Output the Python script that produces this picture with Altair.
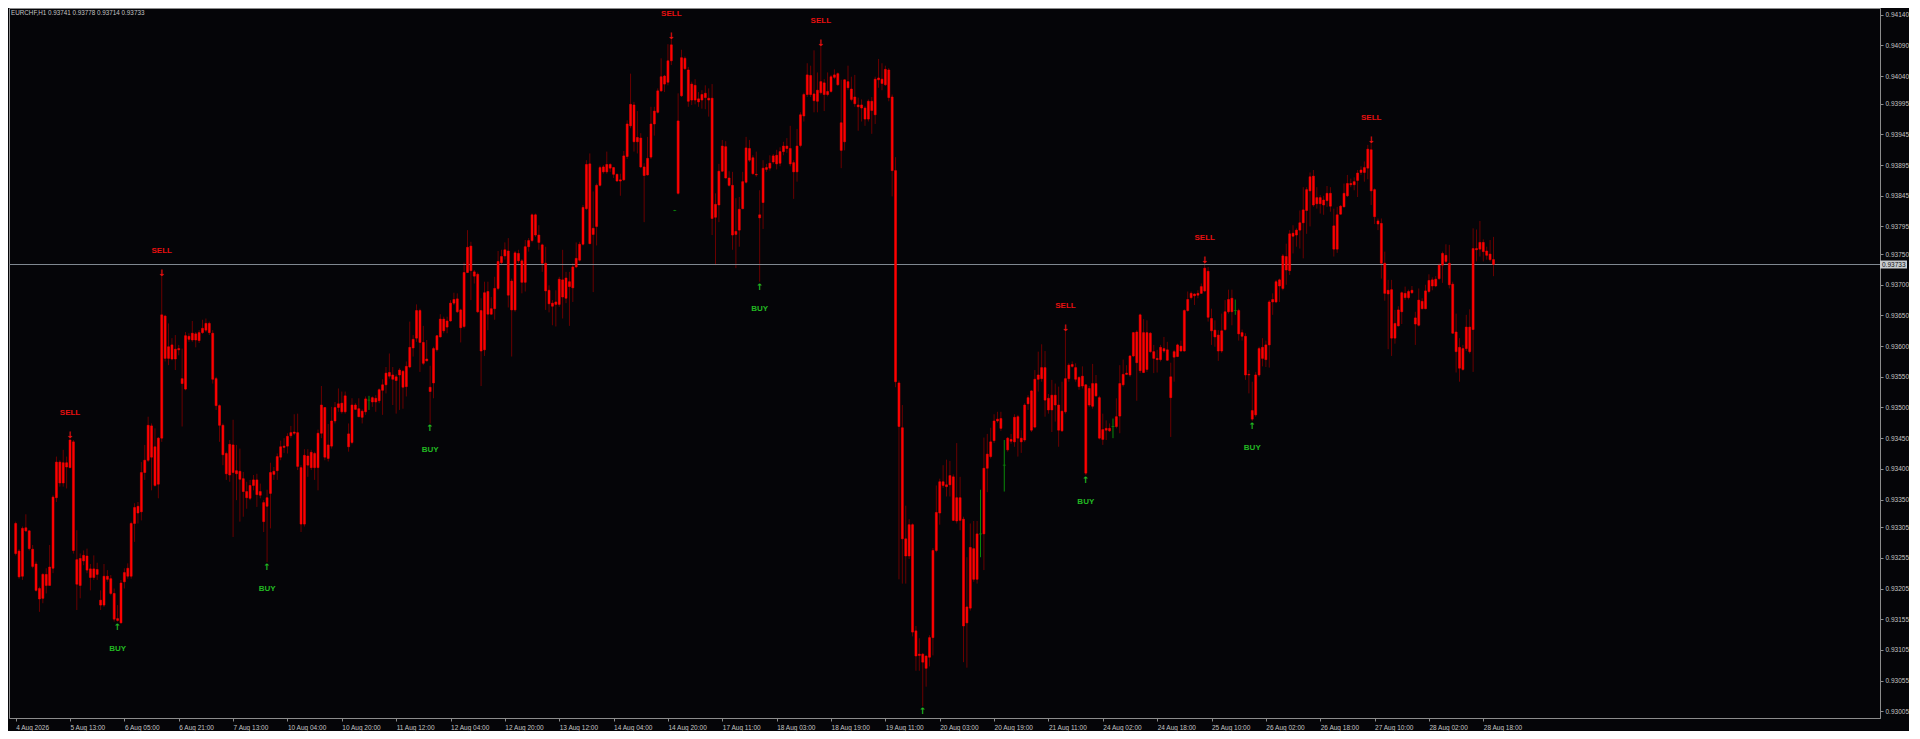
import altair as alt
import pandas as pd

# ---------------- data (prices in points above 0.93000, i.e. 1 = 0.00001) -------------
high = [
314,269,306,326,300,276,249,208,230,238, 276,357,420,414,431,420,452,447,300,262,
267,270,245,259,247,202,245,235,227,205, 178,219,238,246,314,344,346,411,439,485,
474,466,452,716,651,637,613,618,602,596, 623,621,641,623,626,643,645,640,626,550,
505,474,428,447,480,439,433,395,379,382, 390,392,376,349,366,410,403,425,446,450,
458,470,489,490,406,432,432,431,428,464, 535,501,473,501,509,531,526,526,474,515,
507,515,497,518,519,518,520,531,546,566, 588,566,554,564,561,575,640,618,668,661,
633,610,568,599,618,652,648,648,675,687, 686,661,736,789,770,724,720,678,705,705,
680,713,755,757,769,776,710,755,757,742, 773,776,816,816,797,767,762,699,675,691,
713,757,721,721,735,769,770,830,903,914, 852,865,894,895,917,898,892,881,881,918,
968,1044,998,983,947,898,941,990,990,1020, 1069,1042,1092,1102,822,1012,1083,1072,1055,1031,
1035,1014,1017,1025,1020,1027,849,897,936,934, 885,884,841,843,884,941,936,911,917,854,
903,897,911,913,920,924,933,939,959,903, 954,981,1013,1061,1057,1082,1046,1090,1035,1046,
1042,1051,1046,1034,1035,1057,1039,1042,1005,1002, 991,1002,1006,1039,1068,1061,1057,1053,1010,908,
544,504,340,318,311,144,124,100,96,129, 271,373,384,406,415,413,391,442,387,322,
256,311,315,315,366,451,457,467,489,493, 493,447,452,457,489,488,463,507,520,528,
561,591,603,592,522,545,539,534,542,626, 572,575,572,551,567,538,535,571,553,519,
490,479,474,482,515,569,578,569,585,623, 626,653,644,642,623,602,594,602,615,607,
573,594,604,609,660,689,689,686,691,702, 737,729,661,642,626,653,675,692,692,676,
661,627,621,561,542,558,599,613,609,675, 686,708,710,750,767,789,797,792,821,859,
859,883,887,859,846,845,861,859,824,827, 830,865,879,873,875,887,893,901,928,932,
857,808,808,754,708,708,659,665,689,697, 692,698,656,694,678,700,717,712,714,735,
754,766,765,705,653,613,602,651,660,792, 790,804,774,762,773,778,
]
low = [
259,221,219,297,267,238,200,167,181,197, 210,230,346,371,371,368,401,262,170,189,
243,230,202,219,219,170,175,216,194,151, 151,148,205,221,221,281,311,316,382,411,
365,371,352,444,575,569,577,561,585,469, 528,607,607,598,605,620,623,618,539,496,
444,406,382,379,289,349,314,322,335,349, 365,338,352,297,248,303,382,382,414,426,
425,450,455,398,297,306,387,398,382,365, 450,414,412,433,474,493,490,490,428,440,
496,484,474,488,496,501,493,507,488,523, 547,504,490,496,498,518,564,583,607,558,
569,575,474,515,591,614,621,621,640,667, 654,606,629,719,675,702,654,535,584,626,
651,643,691,732,741,663,583,656,735,686, 689,754,769,778,757,721,659,655,634,632,
664,645,670,633,672,727,738,764,822,766, 688,764,860,881,881,884,874,868,845,869,
905,955,917,914,890,802,878,905,943,979, 1014,1014,1025,1058,820,847,1006,1050,990,993,
994,990,987,986,974,781,732,802,884,873, 860,757,727,762,823,865,900,879,876,705,
791,884,886,897,888,893,911,915,893,840, 868,924,966,1006,1006,981,981,1010,983,1007,
1013,1035,1024,890,919,1017,999,990,951,966, 959,966,946,962,1021,1017,1024,999,844,533,
220,213,213,253,127,71,71,13,45,78, 96,264,309,369,355,355,315,311,300,85,
76,169,216,213,256,235,362,417,442,475, 462,363,428,441,436,420,426,444,496,460,
466,526,542,485,490,460,477,436,460,490, 542,565,542,529,531,390,501,498,517,448,
439,447,460,450,466,458,534,553,550,582, 511,556,556,558,589,556,557,575,589,576,
452,542,582,591,591,656,676,667,678,685, 688,640,602,599,576,589,625,653,634,651,
609,609,545,523,478,485,550,567,566,565, 651,670,672,691,700,716,751,762,759,743,
783,795,827,824,816,814,827,819,746,752, 814,826,843,859,854,843,879,868,872,830,
799,789,710,674,595,584,604,632,636,675, 676,685,602,632,660,660,686,691,696,708,
703,735,694,620,557,542,560,592,588,558, 738,746,738,741,738,714,
]
open_ = [
311,266,303,304,299,269,245,205,228,228, 240,354,411,411,410,410,447,444,252,254,
259,258,237,237,236,186,225,225,221,197, 156,214,231,238,311,337,339,394,414,471,
470,436,450,651,649,599,602,595,596,547, 617,616,621,620,622,629,637,637,621,547,
503,471,425,440,439,397,396,384,363,373, 382,382,363,345,353,394,396,420,436,437,
453,459,460,459,402,422,421,427,425,458, 504,500,439,478,500,506,507,519,457,504,
504,498,494,514,512,516,515,529,537,556, 557,553,550,561,559,567,598,611,658,658,
606,579,533,596,617,644,644,641,670,676, 677,659,720,761,763,721,717,658,687,689,
661,694,738,746,757,755,706,752,751,739, 762,772,814,814,781,765,735,691,670,672,
709,708,711,705,729,743,766,826,896,897, 792,862,891,892,896,896,891,880,871,910,
962,994,993,940,939,892,906,962,983,1016, 1039,1040,1065,1091,821,967,1070,1069,1050,1027,
1025,1003,1010,1012,1004,1004,831,885,926,925, 874,862,787,823,868,923,922,907,880,814,
890,891,898,910,911,917,926,926,922,899, 926,977,1010,1042,1041,1011,1017,1031,1029,1015,
1039,1042,1044,964,1034,1031,1019,1006,993,993, 988,999,999,1035,1037,1035,1051,1050,1006,886,
540,467,286,309,309,136,98,98,95,125, 267,329,379,379,374,389,387,353,353,318,
175,272,270,294,294,401,424,444,478,481, 482,406,450,448,484,485,450,504,516,527,
546,553,565,565,515,520,520,504,494,547, 569,570,565,549,551,537,531,539,539,516,
464,466,466,469,485,539,554,556,584,622, 623,651,622,622,621,591,580,598,596,594,
550,591,602,600,658,676,686,685,686,697, 727,722,645,626,618,625,656,676,678,658,
658,622,616,554,495,553,596,598,602,672, 676,705,708,747,746,783,784,789,801,822,
855,876,877,842,842,838,849,849,796,814, 828,849,865,865,868,882,887,891,921,920,
855,804,800,735,691,692,637,659,687,686, 689,691,646,675,673,690,707,708,709,732,
751,748,735,701,623,598,596,631,631,759, 759,769,769,755,750,741,
]
close_ = [
262,224,225,299,270,241,202,188,189,210, 210,238,353,377,377,403,402,267,212,210,
250,235,223,223,228,178,178,220,197,155, 153,149,216,225,225,311,328,330,394,414,
419,373,375,450,580,580,579,579,594,539, 530,611,610,610,609,622,626,622,546,503,
471,423,392,390,394,392,383,363,353,352, 373,358,357,314,339,360,391,397,419,435,
437,454,458,404,310,310,406,402,402,402, 458,419,417,437,478,500,493,493,436,443,
497,485,484,493,512,509,509,511,528,537, 551,546,544,553,533,534,566,597,613,606,
572,576,526,540,594,615,625,631,641,670, 656,630,632,720,723,714,656,592,594,652,
652,661,694,736,747,683,659,659,739,704, 704,762,772,781,769,735,690,669,665,668,
668,680,678,697,695,729,740,766,824,767, 782,795,862,884,884,890,880,869,869,871,
909,959,933,933,892,878,879,908,962,981, 1016,1027,1030,1065,821,849,1008,1052,999,1001,
1001,998,1001,1005,1001,808,810,830,885,874, 862,781,782,789,824,867,903,881,879,809,
834,888,890,900,897,898,917,922,897,884, 884,927,975,1010,1010,1000,999,1013,1010,1010,
1015,1038,1026,919,933,1021,1002,995,990,988, 970,970,984,977,1034,1028,1026,1005,886,542,
469,286,258,258,134,95,96,85,75,93, 125,267,328,373,371,374,316,315,316,144,
149,173,220,220,294,294,401,420,446,478, 466,406,431,445,444,450,444,447,506,463,
468,546,547,512,496,496,504,463,462,493, 547,567,546,534,535,393,504,502,519,450,
448,463,462,469,469,486,537,554,553,584, 573,560,557,562,591,580,578,578,592,577,
516,582,583,592,592,658,679,682,683,686, 690,647,625,615,592,592,627,656,656,658,
620,616,553,553,481,488,553,580,578,602, 672,672,698,694,724,723,779,781,789,801,
821,853,830,832,832,830,837,828,758,758, 815,827,845,863,863,870,883,883,890,853,
811,799,735,686,685,613,613,633,656,679, 679,687,636,634,661,661,689,698,698,710,
732,738,700,621,591,564,562,596,591,627, 757,758,754,748,741,733,
]
doji_idx = [104, 194, 284, 291, 323, 359]

sig_idx = [16, 30, 43, 74, 122, 193, 219, 237, 267, 309, 315, 350, 364, 399]
sig_kind = ["SELL", "BUY", "SELL", "BUY", "BUY", "SELL", "BUY", "SELL", "BUY",
            "SELL", "BUY", "SELL", "BUY", "SELL"]

xtick_idx = list(range(0, 433, 16))
xtick_lbl = ["4 Aug 2026", "5 Aug 13:00", "6 Aug 05:00", "6 Aug 21:00", "7 Aug 13:00",
             "10 Aug 04:00", "10 Aug 20:00", "11 Aug 12:00", "12 Aug 04:00", "12 Aug 20:00",
             "13 Aug 12:00", "14 Aug 04:00", "14 Aug 20:00", "17 Aug 11:00", "18 Aug 03:00",
             "18 Aug 19:00", "19 Aug 11:00", "20 Aug 03:00", "20 Aug 19:00", "21 Aug 11:00",
             "24 Aug 02:00", "24 Aug 18:00", "25 Aug 10:00", "26 Aug 02:00", "26 Aug 18:00",
             "27 Aug 10:00", "28 Aug 02:00", "28 Aug 18:00"]
ytick_pts = [1140, 1090, 1040, 995, 945, 895, 845, 795, 750, 700, 650, 600, 550, 500,
             450, 400, 350, 305, 255, 205, 155, 105, 55, 5]

SYMBOL = "EURCHF,H1"

# ---------------- build tables ----------------
BASE = 0.93


def P(v):
    return round(BASE + v / 1e5, 5)


n = len(high)
df = pd.DataFrame({
    "i": list(range(n)),
    "high": [P(v) for v in high],
    "low": [P(v) for v in low],
    "open": [P(v) for v in open_],
    "close": [P(v) for v in close_],
    "doji": [k in doji_idx for k in range(n)],
})

sig = pd.DataFrame({
    "i": sig_idx,
    "kind": sig_kind,
    "anchor": [P(high[k]) if s == "SELL" else P(low[k]) for k, s in zip(sig_idx, sig_kind)],
})

last = df.iloc[-1]
header = "%s  %.5f %.5f %.5f %.5f" % (SYMBOL, last["open"], last["high"], last["low"], last["close"])
price_df = pd.DataFrame({"p": [last["close"]], "t": ["%.5f" % last["close"]]})

# ---------------- styling ----------------
W, H = 1871, 710
BG = "#050508"
BODY = "#ff0000"
WICK = "#6a0000"
GREEN = "#0a8a0a"
AXIS_C = "#8c8c8c"
TXT = "#c4c4c4"
FONT = "Liberation Sans"
FS = 6.5

xs = alt.Scale(domain=[-0.49, 547.3], nice=False, zero=False)
ys = alt.Scale(domain=[P(-6), P(1151)], nice=False, zero=False)

lbl_js = "[" + ",".join("'%s'" % s for s in xtick_lbl) + "][round(datum.value/16)]"

xaxis = alt.Axis(values=xtick_idx, labelExpr=lbl_js, orient="bottom", labelAlign="left",
                 labelBaseline="top", labelPadding=3, labelFontSize=FS, labelFont=FONT,
                 labelColor=TXT, tickSize=3, tickColor=AXIS_C, domainColor=AXIS_C,
                 grid=False, title=None, labelOverlap=False, labelFlush=False,
                 labelSeparation=0)
yaxis = alt.Axis(values=[P(v) for v in ytick_pts], format=".5f", orient="right",
                 labelAlign="left", labelBaseline="middle", labelPadding=2, labelFontSize=FS,
                 labelFont=FONT, labelColor=TXT, tickSize=3, tickColor=AXIS_C,
                 domainColor=AXIS_C, grid=False, title=None, labelOverlap=False,
                 labelFlush=False, labelSeparation=0)

# every layer carries the same axis definition so the merged axis keeps all labels
XE = alt.X("i:Q", scale=xs, axis=xaxis, title=None)


def YE(field):
    return alt.Y(field, scale=ys, axis=yaxis, title=None)


base = alt.Chart(df)

wicks = base.transform_filter("!datum.doji").mark_rule(color=WICK, strokeWidth=1).encode(
    x=XE, y=YE("low:Q"), y2="high:Q",
)
bodies = base.transform_filter("!datum.doji").mark_bar(
    size=2, color=BODY, stroke=BODY, strokeWidth=0.5).encode(
    x=XE, y=YE("open:Q"), y2="close:Q",
)
doji_w = base.transform_filter("datum.doji").mark_rule(color=GREEN, strokeWidth=1).encode(
    x=XE, y=YE("low:Q"), y2="high:Q",
)
doji_b = base.transform_filter("datum.doji").mark_tick(
    color=GREEN, size=3, thickness=1, orient="horizontal").encode(
    x=XE, y=YE("open:Q"),
)

price_line = alt.Chart(price_df).mark_rule(color="#808890", strokeWidth=1).encode(
    y=YE("p:Q"))
price_box = alt.Chart(price_df).mark_rect(color="#c8ccd0", yOffset=-4, y2Offset=4).encode(
    x=alt.value(W), x2=alt.value(W + 27), y=YE("p:Q"), y2="p:Q")
price_txt = alt.Chart(price_df).mark_text(
    align="left", baseline="middle", dx=2, fontSize=FS, font=FONT, color="#101010").encode(
    x=alt.value(W), y=YE("p:Q"), text="t:N")

sigb = alt.Chart(sig)


def sig_layer(kind, txt, dy, color, size, font, extra=None):
    c = sigb.transform_filter("datum.kind == '%s'" % kind)
    if extra:
        c = c.transform_filter(extra)
    return c.mark_text(
        text=txt, dy=dy, color=color, fontSize=size, fontWeight="bold", font=font,
        baseline="middle", align="center", clip=True).encode(
        x=XE, y=YE("anchor:Q"))


SELL_C = "#e81010"
BUY_C = "#22b822"
sell_arrow = sig_layer("SELL", "↓", -2, SELL_C, 9, "DejaVu Sans")
sell_lbl = sig_layer("SELL", "SELL", -24, SELL_C, 8, FONT)
buy_arrow = sig_layer("BUY", "↑", 5, BUY_C, 9, "DejaVu Sans")
# a BUY caption that would fall below the visible price range is not drawn (as in the terminal)
buy_lbl = sig_layer("BUY", "BUY", 27, BUY_C, 8, FONT, "datum.anchor > 0.9305")

head = alt.Chart(pd.DataFrame({"t": [header]})).mark_text(
    align="left", baseline="top", fontSize=6.3, font=FONT, color=TXT).encode(
    x=alt.value(2), y=alt.value(2), text="t:N")

chart = alt.layer(
    wicks, price_line, doji_w, bodies, doji_b,
    sell_arrow, sell_lbl, buy_arrow, buy_lbl,
    price_box, price_txt, head,
).properties(width=W, height=H, padding=0, background=BG).configure_view(
    stroke=AXIS_C, strokeWidth=1, fill=BG).configure_axis(
    labelOverlap=False, labelSeparation=0)

chart.save("out.html", embed_options={"renderer": "svg", "actions": False})
